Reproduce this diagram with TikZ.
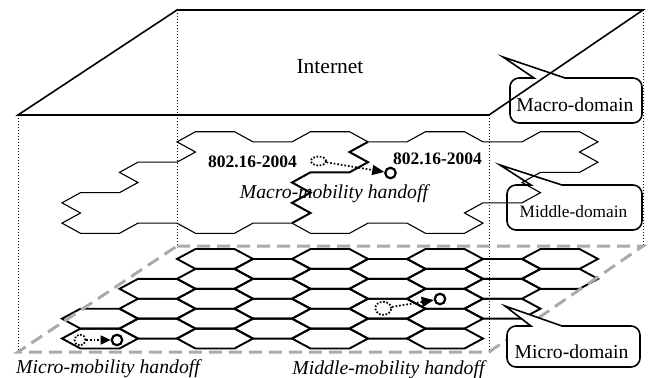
\documentclass[tikz,border=0pt]{standalone}
\usepackage{fontspec}
\setmainfont{Liberation Serif}
\usetikzlibrary{arrows.meta,shapes.geometric}

% one elongated cell of the honeycomb, centre x = #1, centre row = #2
\newcommand{\cellhex}[2]{%
  \draw[cellline] ({#1-38},#2) -- ({#1-19.5},{#2-1}) -- ({#1+19.5},{#2-1})
    -- ({#1+38},#2) -- ({#1+19.5},{#2+1}) -- ({#1-19.5},{#2+1}) -- cycle;}

% speech-bubble label: left, top, right, bottom, tip x, tip y, extra options
\newcommand{\bubble}[7]{%
  \draw[callbox,#7] ({#1+55},#2) [rounded corners=9pt] -- (#3,#2) -- (#3,#4)
    -- (#1,#4) -- (#1,#2) [sharp corners] -- ({#1+24},#2) -- (#5,#6) -- cycle;}

\begin{document}
\begin{tikzpicture}[x=1pt,y=-1pt,
  plane/.style={line width=1.6pt, line join=miter},
  guide/.style={line width=0.8pt, dash pattern=on 0.8pt off 2.2pt},
  cellline/.style={line width=1.9pt, line join=miter},
  zone/.style={line width=1.1pt, line join=miter},
  border/.style={line width=2pt, line join=miter},
  fence/.style={line width=3pt, draw=black!33, dash pattern=on 13pt off 7pt},
  callbox/.style={line width=1.6pt, line join=miter},
  txtnet/.style={inner sep=0pt, anchor=base, font=\fontsize{21.5}{24}\selectfont},
  txtdom/.style={inner sep=0pt, anchor=base, font=\fontsize{19.7}{22}\selectfont},
  txtmid/.style={inner sep=0pt, anchor=base, font=\fontsize{17.3}{20}\selectfont},
  txtstd/.style={inner sep=0pt, anchor=base, font=\fontsize{17.5}{20}\selectfont\bfseries},
  txthand/.style={inner sep=0pt, anchor=base, font=\fontsize{19.7}{22}\selectfont\itshape},
  oldpos/.style={draw, line width=1.8pt, dash pattern=on 1.6pt off 1.7pt, inner sep=0pt},
  newpos/.style={draw, circle, line width=2.2pt, minimum size=10.5pt, inner sep=0pt},
  move/.style={line width=1.8pt, dash pattern=on 1.6pt off 2pt,
    -{Triangle[length=12pt,width=10pt]}},
  shortmove/.style={move, -{Triangle[length=10pt,width=9pt]}},
]
\useasboundingbox (0,0) rectangle (649,378);

% corners of the three layers
\coordinate (tA) at (177,10);  \coordinate (tB) at (643,10);
\coordinate (tC) at (489,115); \coordinate (tD) at (18,115);
\coordinate (bA) at (177,246); \coordinate (bB) at (643,246);
\coordinate (bC) at (489,352); \coordinate (bD) at (18,352);

% vertical guides joining the layers
\draw[guide] (tA) -- (bA);
\draw[guide] (tB) -- (bB);
\draw[guide] (tC) -- (bC);
\draw[guide] (tD) -- (bD);

% Internet plane
\draw[plane] (tA) -- (tB) -- (tC) -- (tD) -- cycle;
\node[txtnet] (inet) at (330,73) {Internet};

% middle layer: two adjoining regions of large cells
\begin{scope}[shift={(0,131.7)}, y=-10.16pt]
  \draw[zone] (195.5,0) -- (234.5,0) -- (253,1) -- (292,1) -- (310.5,0)
    -- (349.5,0) -- (368,1) -- (407,1) -- (425.5,0) -- (464.5,0) -- (483,1)
    -- (522,1) -- (540.5,0) -- (579.5,0) -- (598,1) -- (579.5,2) -- (598,3)
    -- (579.5,4) -- (540.5,4) -- (522,5) -- (540.5,6) -- (522,7) -- (483,7)
    -- (464.5,8) -- (483,9) -- (464.5,10) -- (425.5,10) -- (407,9) -- (368,9)
    -- (349.5,10) -- (310.5,10) -- (292,9) -- (253,9) -- (234.5,10)
    -- (195.5,10) -- (177,9) -- (138,9) -- (119.5,10) -- (80.5,10) -- (62,9)
    -- (80.5,8) -- (62,7) -- (80.5,6) -- (119.5,6) -- (138,5) -- (119.5,4)
    -- (138,3) -- (177,3) -- (195.5,2) -- (177,1) -- cycle;
  \draw[border] (368,1) -- (349.5,2) -- (368,3) -- (349.5,4) -- (310.5,4)
    -- (292,5) -- (310.5,6) -- (292,7) -- (310.5,8) -- (292,9);
\end{scope}

\node[txtstd] (stdl) at (252.5,167) {802.16-2004};
\node[txtstd] (stdr) at (437.5,164) {802.16-2004};
\node[txthand] (hmac) at (334,198) {Macro-mobility handoff};

% macro handoff across the regions
\node[oldpos, ellipse, minimum width=15pt, minimum height=9pt] (m1) at (318.5,161) {};
\node[newpos] (m2) at (390.5,173) {};
\draw[move] (m1) -- (m2);

% micro layer honeycomb
\begin{scope}[shift={(0,249)}, y=-9.95pt]
  \foreach \k in {7,9} {\cellhex{100}{\k}}
  \foreach \c in {215,330,445} {\foreach \k in {1,3,5,7,9} {\cellhex{\c}{\k}}}
  \foreach \k in {1,3} {\cellhex{560}{\k}}
  \foreach \k in {4,6,8} {\cellhex{157.5}{\k}}
  \foreach \c in {272.5,387.5} {\foreach \k in {2,4,6,8} {\cellhex{\c}{\k}}}
  \foreach \k in {2,4,6} {\cellhex{502.5}{\k}}
\end{scope}

% micro layer outline
\draw[fence] (bA) -- (bB) -- (bC) -- (bD) -- cycle;

% micro handoff
\node[oldpos, circle, minimum size=11pt] (u1) at (80,340) {};
\node[newpos] (u2) at (117,340) {};
\draw[shortmove] (u1) -- (u2);

% middle handoff
\node[oldpos, ellipse, minimum width=16pt, minimum height=13pt] (d1) at (383.3,308.3) {};
\node[newpos] (d2) at (440,299) {};
\draw[move] (d1) -- (d2);

\node[txthand] (hmic) at (108,373) {Micro-mobility handoff};
\node[txthand] (hmid) at (388.5,374) {Middle-mobility handoff};

% domain labels
\bubble{510}{78}{642}{123}{503}{57}{}
\node[txtdom] (lmac) at (575,111) {Macro-domain};
\bubble{507}{185}{642}{230}{500}{165}{}
\node[txtmid] (lmid) at (573.5,217.5) {Middle-domain};
\bubble{507}{326}{640}{367}{505}{306}{fill=white}
\node[txtdom] (lmic) at (571.5,358) {Micro-domain};
\end{tikzpicture}
\end{document}
